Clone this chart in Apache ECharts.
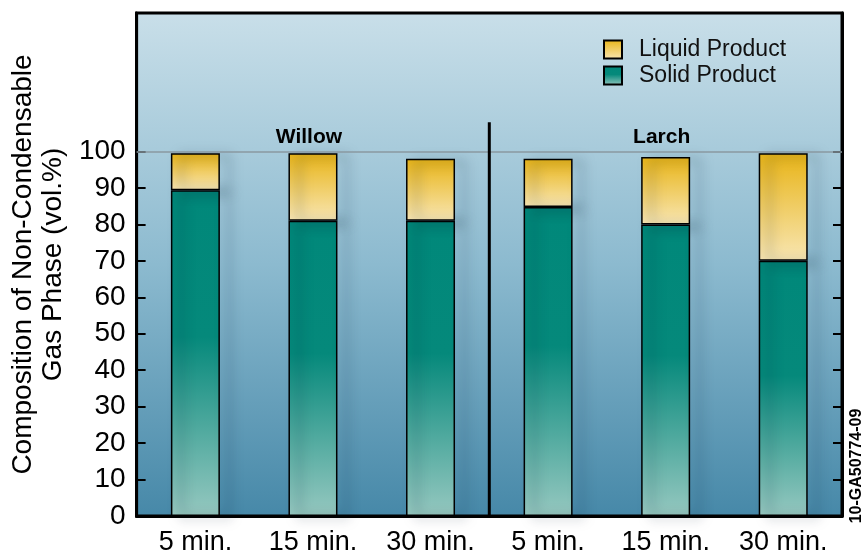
<!DOCTYPE html>
<html>
<head>
<meta charset="utf-8">
<script src="https://cdn.jsdelivr.net/npm/echarts@6/dist/echarts.min.js"></script>
<style>html,body{margin:0;padding:0;background:#fff}#c{width:868px;height:556px}</style>
</head>
<body>
<div id="c"></div>
<script>
var categories = ['5 min.', '15 min.', '30 min.', '5 min.', '15 min.', '30 min.'];
var groups = ['Willow', 'Larch'];
var solidValues = [89.4, 81.0, 81.0, 84.8, 80.0, 70.0];
var liquidValues = [10.1, 18.5, 17.0, 13.2, 18.5, 29.5];
var yTicks = [0, 10, 20, 30, 40, 50, 60, 70, 80, 90, 100];
var figureCode = '10-GA50774-09';

var FONT = '"Liberation Sans", Arial, sans-serif';
var chart = echarts.init(document.getElementById('c'), null, {renderer: 'canvas'});

var bgGrad = {type: 'linear', x: 0, y: 0, x2: 0, y2: 1, colorStops: [
  {offset: 0, color: '#c9dfe9'}, {offset: 0.5, color: '#8cbacf'}, {offset: 1, color: '#4688a8'}]};
var solidGrad = {type: 'linear', x: 0, y: 0, x2: 0, y2: 1, colorStops: [
  {offset: 0, color: '#00887a'}, {offset: 0.45, color: '#05897b'}, {offset: 1, color: '#96c8c0'}]};
var liquidGrad = {type: 'linear', x: 0, y: 0, x2: 0, y2: 1, colorStops: [
  {offset: 0, color: '#e8b417'}, {offset: 1, color: '#f8e6b3'}]};

var barShadow = {shadowColor: 'rgba(10,30,50,0.6)', shadowBlur: 12, shadowOffsetX: 10, shadowOffsetY: 2};

chart.setOption({
  animation: false,
  grid: {left: 134, right: 26, top: 13, bottom: 39, show: true,
    backgroundColor: bgGrad, borderColor: '#000', borderWidth: 3},
  legend: {
    orient: 'vertical', left: 598, top: 33, itemWidth: 18, itemHeight: 18, itemGap: 3,
    icon: 'rect',
    data: ['Liquid Product', 'Solid Product'],
    textStyle: {fontFamily: FONT, fontSize: 23, color: '#111', padding: [0, 0, 0, 12]}
  },
  xAxis: {
    type: 'category', data: categories,
    axisLine: {lineStyle: {color: '#000', width: 3}},
    axisTick: {show: false},
    axisLabel: {interval: 0, hideOverlap: false, fontFamily: FONT, fontSize: 27, color: '#000', margin: 13}
  },
  yAxis: [{
    type: 'value', min: 0, max: 138, interval: 10, position: 'left',
    name: 'Composition of Non-Condensable\nGas Phase (vol.%)',
    nameLocation: 'middle', nameGap: 66,
    nameTextStyle: {fontFamily: FONT, fontSize: 28, color: '#000', lineHeight: 30},
    splitLine: {show: false},
    axisLine: {show: true, lineStyle: {color: '#000', width: 3}},
    axisTick: {show: true, inside: true, length: 9, customValues: yTicks, lineStyle: {color: '#000', width: 2}},
    axisLabel: {customValues: yTicks, fontFamily: FONT, fontSize: 28, color: '#000', margin: 11}
  }, {
    type: 'value', min: 0, max: 138, interval: 10, position: 'right',
    splitLine: {show: false},
    axisLine: {show: true, lineStyle: {color: '#000', width: 3}},
    axisTick: {show: true, inside: true, length: 9, customValues: yTicks, lineStyle: {color: '#000', width: 2}},
    axisLabel: {show: false}
  }],
  series: [{
    name: 'Solid Product', type: 'bar', stack: 'total', data: solidValues, barWidth: 49,
    itemStyle: Object.assign({color: solidGrad, borderColor: '#000', borderWidth: 1.5}, barShadow),
    markLine: {silent: true, symbol: 'none', label: {show: false},
      lineStyle: {color: '#8a98a0', width: 1.5, type: 'solid'},
      data: [{yAxis: 100}]},
    z: 3
  }, {
    name: 'Liquid Product', type: 'bar', stack: 'total', data: liquidValues, barWidth: 49,
    itemStyle: Object.assign({color: liquidGrad, borderColor: '#000', borderWidth: 1.5}, barShadow),
    z: 3
  }]
});

// group labels and divider placed via the axis scales
var g = [];
var gx0 = chart.convertToPixel({xAxisIndex: 0}, 1);
var gx1 = chart.convertToPixel({xAxisIndex: 0}, 4);
var p2 = chart.convertToPixel({xAxisIndex: 0}, 2);
var p3 = chart.convertToPixel({xAxisIndex: 0}, 3);
var yTop = chart.convertToPixel({yAxisIndex: 0}, 108);
var yBot = chart.convertToPixel({yAxisIndex: 0}, 0);
var yLab = chart.convertToPixel({yAxisIndex: 0}, 103.8);
[gx0, gx1].forEach(function (x, i) {
  g.push({type: 'text', x: x - 4, y: yLab, z: 10,
    style: {text: groups[i], fontFamily: FONT, fontWeight: 'bold', fontSize: 21, fill: '#000',
      textAlign: 'center', textVerticalAlign: 'middle'}});
});
g.push({type: 'line', z: 10, shape: {x1: (p2 + p3) / 2, y1: yTop, x2: (p2 + p3) / 2, y2: yBot},
  style: {stroke: '#000', lineWidth: 3}});
g.push({type: 'text', x: 857, y: 466, rotation: Math.PI / 2, z: 10,
  style: {text: figureCode, fontFamily: FONT, fontWeight: 'bold', fontSize: 16, fill: '#000',
    textAlign: 'center', textVerticalAlign: 'middle'}});
chart.setOption({graphic: g});
</script>
</body>
</html>
